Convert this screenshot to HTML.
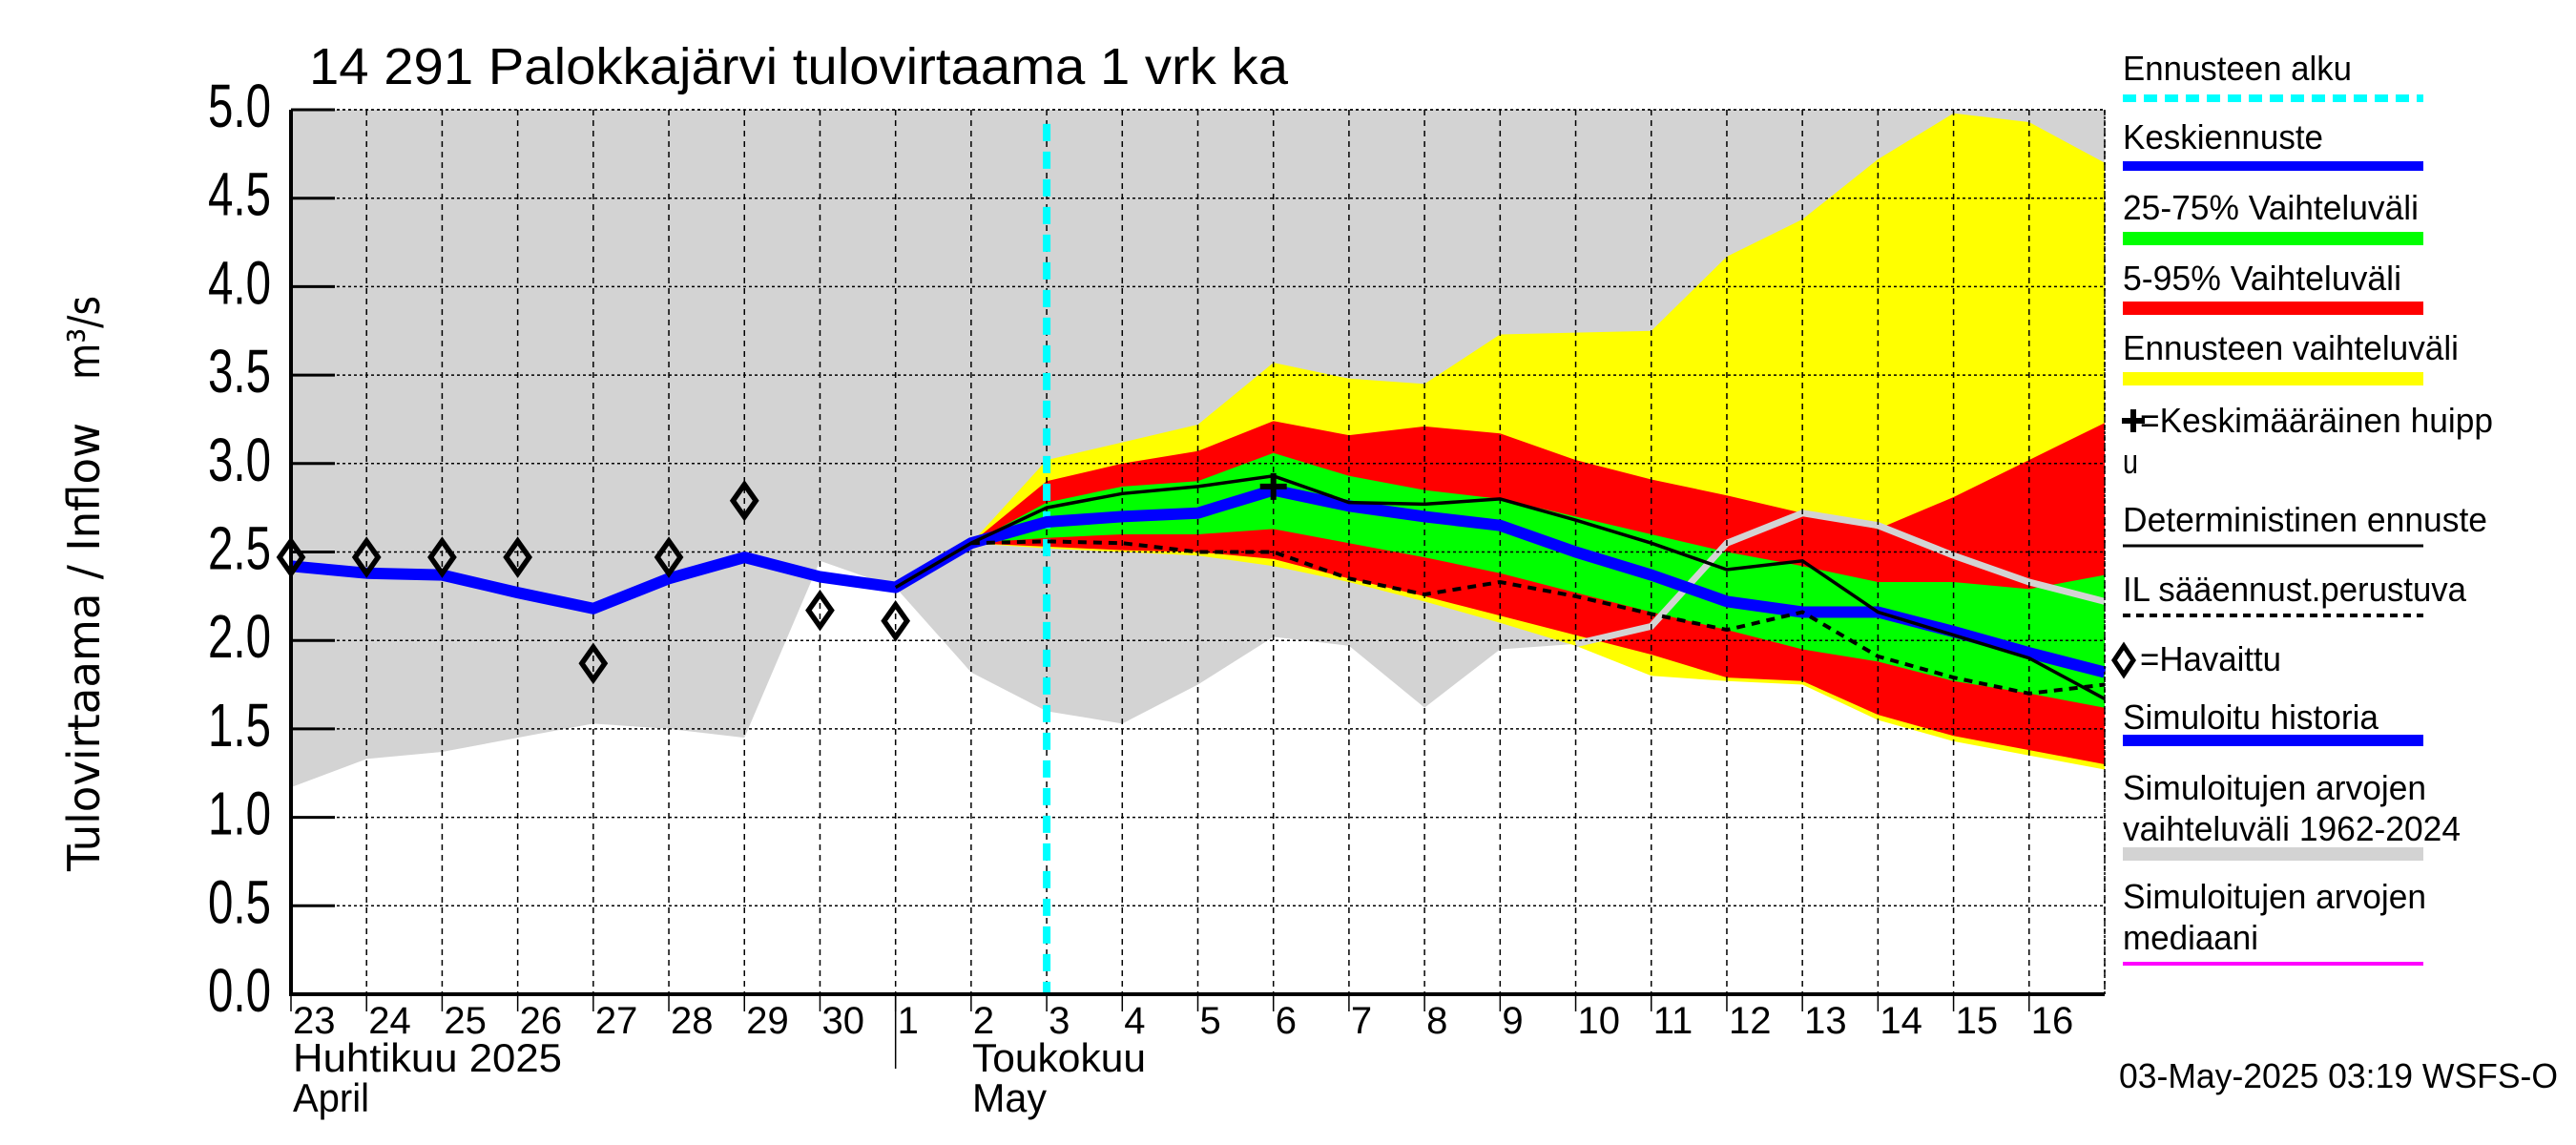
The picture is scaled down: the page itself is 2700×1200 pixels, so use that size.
<!DOCTYPE html>
<html><head><meta charset="utf-8"><style>
html,body{margin:0;padding:0;background:#fff;}
svg{display:block;font-family:"Liberation Sans",sans-serif;}
</style></head><body>
<svg id="chart" width="2700" height="1200" viewBox="0 0 2700 1200" xmlns="http://www.w3.org/2000/svg">
<g id="plot"></g>
<g id="labels"></g>
<g id="legend"></g>
</svg>
<script>
const dayLabels = ["23","24","25","26","27","28","29","30","1","2","3","4","5","6","7","8","9","10","11","12","13","14","15","16"];
const yTicks = [0,0.5,1,1.5,2,2.5,3,3.5,4,4.5,5];
const yTickLabels = ["0.0","0.5","1.0","1.5","2.0","2.5","3.0","3.5","4.0","4.5","5.0"];
const simHistory = [2.42,2.38,2.37,2.27,2.18,2.35,2.47,2.36,2.30,2.55,2.67,2.70,2.72,2.85,2.76,2.70,2.65,2.50,2.37,2.22,2.16,2.16,2.05,1.93,1.82];
const observed = [2.47,2.47,2.47,2.47,1.87,2.47,2.79,2.17,2.11];
const greyLow = [1.17,1.33,1.37,1.45,1.53,1.50,1.45,2.45,2.30,1.82,1.60,1.53,1.75,2.02,1.97,1.62,1.95,1.98,2.08,2.55,2.72,2.65,2.48,2.33,2.22];
const yelHigh = [2.55,3.02,3.12,3.22,3.57,3.48,3.45,3.73,3.74,3.75,4.17,4.38,4.72,4.98,4.93,4.70];
const yelLow  = [2.55,2.52,2.50,2.48,2.42,2.33,2.22,2.10,1.97,1.80,1.77,1.75,1.55,1.43,1.35,1.27];
const redHigh = [2.55,2.90,3.00,3.07,3.24,3.16,3.21,3.17,3.02,2.91,2.82,2.72,2.63,2.81,3.02,3.23];
const redLow  = [2.55,2.53,2.51,2.50,2.46,2.35,2.25,2.14,2.03,1.92,1.79,1.77,1.58,1.46,1.38,1.30];
const grnHigh = [2.55,2.78,2.87,2.90,3.06,2.93,2.85,2.80,2.70,2.60,2.50,2.42,2.33,2.33,2.29,2.37];
const grnLow  = [2.55,2.58,2.60,2.60,2.63,2.55,2.47,2.38,2.27,2.16,2.06,1.95,1.88,1.77,1.70,1.62];
const determ  = [2.30,2.55,2.75,2.83,2.87,2.93,2.78,2.77,2.80,2.68,2.55,2.40,2.45,2.16,2.03,1.90,1.67];
const ilFcst  = [2.55,2.56,2.55,2.50,2.50,2.35,2.26,2.33,2.25,2.15,2.06,2.16,1.91,1.79,1.70,1.75];
const peak = {day:13, value:2.87};
const forecastStart = 10;

const X0=305, X1=2206, Y0=1042, Y5=115;
const x = d => X0 + d*(X1-X0)/24;
const y = v => Y0 - v*(Y0-Y5)/5;
const NS="http://www.w3.org/2000/svg";
function mk(tag, attrs, parent){const e=document.createElementNS(NS,tag);for(const k in attrs)e.setAttribute(k,attrs[k]);parent.appendChild(e);return e;}
const plot=document.getElementById('plot'), labels=document.getElementById('labels'), legend=document.getElementById('legend');
function pts(arr, off){return arr.map((v,i)=>x(i+off).toFixed(1)+","+y(v).toFixed(1)).join(" ");}
function band(hi, lo, off){return pts(hi,off)+" "+lo.map((v,i)=>[i,v]).reverse().map(([i,v])=>x(i+off).toFixed(1)+","+y(v).toFixed(1)).join(" ");}

let e;
e=mk('polygon',{points:x(0)+","+y(5)+" "+x(24)+","+y(5)+" "+greyLow.map((v,i)=>[i,v]).reverse().map(([i,v])=>x(i)+","+y(v)).join(" "),fill:"#d3d3d3"},plot);


e=mk('polygon',{points:band(yelHigh,yelLow,9),fill:"#ffff00"},plot);


e=mk('polygon',{points:band(redHigh,redLow,9),fill:"#ff0000"},plot);


e=mk('polygon',{points:band(grnHigh,grnLow,9),fill:"#00ff00"},plot);


e=mk('polyline',{points:pts(greyLow.slice(17),17),fill:"none",stroke:"#d3d3d3","stroke-width":7},plot);



for(let i=0;i<=24;i++){
  e=mk('line',{x1:x(i),x2:x(i),y1:Y5,y2:Y0,stroke:"#000","stroke-width":1.5,"stroke-dasharray":"6,5"},plot);
  
  
}
yTicks.forEach((v,i)=>{
  e=mk('line',{x1:X0,x2:X1,y1:y(v),y2:y(v),stroke:"#000","stroke-width":1.5,"stroke-dasharray":"3,3"},plot);
  
  
  e=mk('line',{x1:X0,x2:X0+46,y1:y(v),y2:y(v),stroke:"#000","stroke-width":3},plot);
  
  
  e=mk('text',{x:284,y:y(v)+18,"text-anchor":"end","font-size":64,textLength:66,lengthAdjust:"spacingAndGlyphs"},labels);
  e.textContent=yTickLabels[i];
  
  
});

e=mk('line',{x1:x(forecastStart),x2:x(forecastStart),y1:y(4.92),y2:Y0,stroke:"#00ffff","stroke-width":8,"stroke-dasharray":"18,11"},plot);



e=mk('polyline',{points:pts(simHistory,0),fill:"none",stroke:"#0000ff","stroke-width":12,"stroke-linejoin":"round"},plot);


e=mk('polyline',{points:pts(ilFcst,9),fill:"none",stroke:"#000","stroke-width":4,"stroke-dasharray":"9,7"},plot);


e=mk('polyline',{points:pts(determ,8),fill:"none",stroke:"#000","stroke-width":3.5},plot);


e=mk('path',{d:`M${x(peak.day)-14},${y(peak.value)}h28M${x(peak.day)},${y(peak.value)-14}v28`,stroke:"#000","stroke-width":6},plot);


observed.forEach((v,i)=>{
  const cx=x(i),cy=y(v);
  e=mk('polygon',{points:`${cx},${cy-17} ${cx+12},${cy} ${cx},${cy+17} ${cx-12},${cy}`,fill:"none",stroke:"#000","stroke-width":5.5},plot);
  
  
});

e=mk('path',{d:`M${X0},${Y5}H${X1}V${Y0}`,fill:"none",stroke:"#000","stroke-width":1.5,"stroke-dasharray":"3,3"},plot);


e=mk('path',{d:`M${X0},${Y5}V${Y0}H${X1}`,fill:"none",stroke:"#000","stroke-width":4},plot);



dayLabels.forEach((t,i)=>{
  e=mk('line',{x1:x(i),x2:x(i),y1:Y0,y2:Y0+18,stroke:"#000","stroke-width":1.5},labels);
  
  
  e=mk('text',{x:x(i)+2,y:1083,"font-size":40},labels);
  e.textContent=t;
  
  
});
e=mk('line',{x1:x(8),x2:x(8),y1:Y0,y2:1120,stroke:"#000","stroke-width":1.5},labels);


function txt(s,attrs,name,parent){const t=mk('text',attrs,parent||labels);t.textContent=s;return t;}
txt("Huhtikuu  2025",{x:307,y:1123,"font-size":42,textLength:282,lengthAdjust:"spacingAndGlyphs","xml:space":"preserve"},'month-label-april-fi');
txt("April",{x:307,y:1165,"font-size":42,textLength:80,lengthAdjust:"spacingAndGlyphs"},'month-label-april-en');
txt("Toukokuu",{x:1019,y:1123,"font-size":42,textLength:182,lengthAdjust:"spacingAndGlyphs"},'month-label-may-fi');
txt("May",{x:1019,y:1165,"font-size":42,textLength:78,lengthAdjust:"spacingAndGlyphs"},'month-label-may-en');
txt("14 291 Palokkajärvi tulovirtaama 1 vrk ka",{x:324,y:88,"font-size":54,textLength:1026,lengthAdjust:"spacingAndGlyphs"},'chart-title');
txt("Tulovirtaama / Inflow",{x:0,y:0,"font-size":46,transform:"translate(104,913) rotate(-90)",textLength:470,lengthAdjust:"spacingAndGlyphs","font-family":"DejaVu Sans"},'y-axis-title');
txt("m³/s",{x:0,y:0,"font-size":46,transform:"translate(104,398) rotate(-90)",textLength:88,lengthAdjust:"spacingAndGlyphs","font-family":"DejaVu Sans"},'y-axis-unit');
txt("03-May-2025 03:19 WSFS-O",{x:2221,y:1140,"font-size":36,textLength:460,lengthAdjust:"spacingAndGlyphs"},'timestamp');

const L=[
 ["Ennusteen alku",84,{y:103,c:"#00ffff",w:8,dash:"14,8"},240],
 ["Keskiennuste",156,{y:174,c:"#0000ff",w:10},210],
 ["25-75% Vaihteluväli",230,{y:250,c:"#00ff00",w:14},310],
 ["5-95% Vaihteluväli",304,{y:323,c:"#ff0000",w:14},292],
 ["Ennusteen vaihteluväli",377,{y:397,c:"#ffff00",w:14},352],
 ["=Keskimääräinen huipp",453,null,370],
 ["u",496,null,16],
 ["Deterministinen ennuste",557,{y:572,c:"#000",w:3},382],
 ["IL sääennust.perustuva",630,{y:645,c:"#000",w:4,dash:"8,6"},360],
 ["=Havaittu",703,null,148],
 ["Simuloitu historia",764,{y:776,c:"#0000ff",w:12},268],
 ["Simuloitujen arvojen",838,null,318],
 ["vaihteluväli 1962-2024",881,{y:895,c:"#d3d3d3",w:14},354],
 ["Simuloitujen arvojen",952,null,318],
 ["mediaani",995,{y:1010,c:"#ff00ff",w:4},142]
];
L.forEach(([t,by,ln,tl],i)=>{
  let tx = (t[0]=="=")?2243:2225;
  txt(t,{x:tx,y:by,"font-size":36,textLength:tl,lengthAdjust:"spacingAndGlyphs"},'legend-label',legend);
  if(ln){
    const a={x1:2225,x2:2540,y1:ln.y,y2:ln.y,stroke:ln.c,"stroke-width":ln.w};
    if(ln.dash)a["stroke-dasharray"]=ln.dash;
    e=mk('line',a,legend);
    
    
  }
});
e=mk('path',{d:"M2224,441h24M2236,429v24",stroke:"#000","stroke-width":6},legend);


e=mk('polygon',{points:"2226,677 2236,692 2226,707 2216,692",fill:"none",stroke:"#000","stroke-width":5},legend);


</script>
</body></html>
